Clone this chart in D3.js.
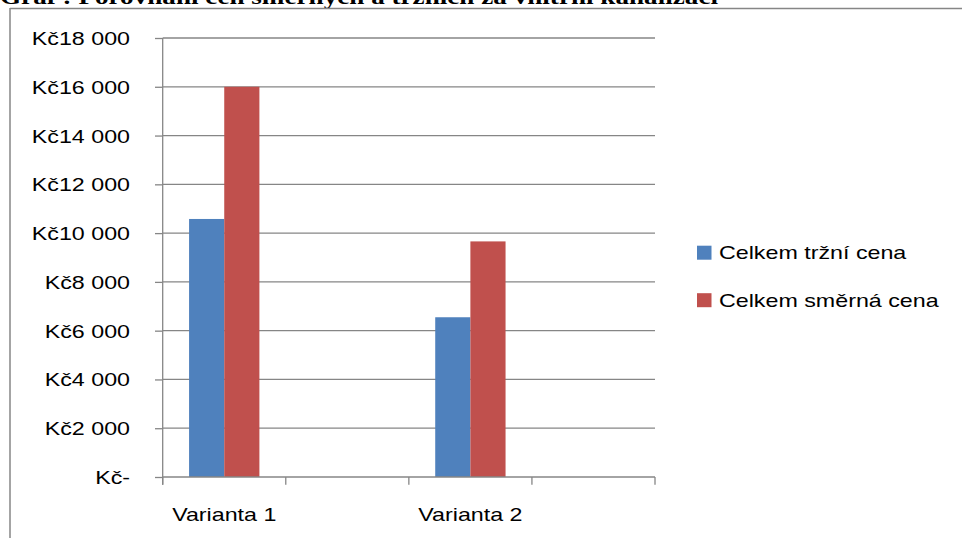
<!DOCTYPE html>
<html>
<head>
<meta charset="utf-8">
<script src="https://cdn.jsdelivr.net/npm/d3@7"></script>
<style>
  html, body { margin: 0; padding: 0; background: #fff; }
  svg { display: block; }
  text { font-family: "Liberation Sans", Arial, sans-serif; fill: #000; }
</style>
</head>
<body>
<svg id="chart" width="962" height="538"></svg>
<script>
// Category slots on the horizontal axis (two of them are left empty)
const categories = ["Varianta 1", "", "Varianta 2", ""];
// Series values in Kč
const marketPrice = [10580, null, 6550, null];
const guidePrice = [16000, null, 9660, null];
const seriesNames = ["Celkem tržní cena", "Celkem směrná cena"];
const seriesColors = ["#4F81BD", "#C0504D"];
const yTicks = [0, 2000, 4000, 6000, 8000, 10000, 12000, 14000, 16000, 18000];
const titleText = "Graf : Porovnání cen směrných a tržních za vnitřní kanalizaci";

const svg = d3.select("#chart");
const axisColor = "#868686";
const fontSize = "18.6px";
const stretch = 1.25; // the whole chart graphic is widened horizontally

// Title line (partly above the visible area) and frame
svg.append("text")
  .attr("x", 0).attr("y", 4)
  .attr("textLength", 718).attr("lengthAdjust", "spacingAndGlyphs")
  .style("font-family", "'Liberation Serif', 'Times New Roman', serif")
  .style("font-weight", "bold").style("font-size", "21px")
  .text(titleText);
svg.append("line").attr("x1", 10).attr("x2", 962).attr("y1", 8.5).attr("y2", 8.5)
  .attr("stroke", axisColor).attr("stroke-width", 1.5);
svg.append("line").attr("x1", 10).attr("x2", 10).attr("y1", 8).attr("y2", 538)
  .attr("stroke", axisColor).attr("stroke-width", 1.5);

const plot = { left: 162.7, right: 655, top: 38, bottom: 477 };

const x = d3.scaleBand().domain(d3.range(categories.length))
  .range([plot.left, plot.right]).paddingInner(0).paddingOuter(0);
const y = d3.scaleLinear().domain([0, 18000]).range([plot.bottom, plot.top]);

const fmt = d => d === 0 ? "Kč-" : "Kč" + d3.format(",")(d).replace(/,/g, " ");

// Stretched text helper
function label(parent, tx, ty, str, anchor) {
  return parent.append("text")
    .attr("transform", `translate(${tx},${ty}) scale(${stretch},1)`)
    .attr("text-anchor", anchor)
    .style("font-size", fontSize)
    .text(str);
}

// Gridlines
svg.append("g").selectAll("line").data(yTicks.filter(d => d > 0)).join("line")
  .attr("x1", plot.left).attr("x2", plot.right)
  .attr("y1", d => y(d)).attr("y2", d => y(d))
  .attr("stroke", axisColor).attr("stroke-width", 1.3);

// Y axis
const yAxis = d3.axisLeft(y).tickValues(yTicks).tickFormat(fmt).tickSize(7.7).tickPadding(25);
const gy = svg.append("g").attr("transform", `translate(${plot.left},0)`).call(yAxis);
gy.select(".domain").remove();
gy.selectAll(".tick line").attr("stroke", axisColor).attr("stroke-width", 1.3);
gy.selectAll(".tick text")
  .attr("x", 0).attr("dy", "0.35em")
  .attr("transform", `translate(-32.7,0) scale(${stretch},1)`)
  .style("font-size", fontSize)
  .style("font-family", "'Liberation Sans', Arial, sans-serif");
svg.append("line").attr("x1", plot.left).attr("x2", plot.left)
  .attr("y1", plot.top).attr("y2", plot.bottom + 7.7)
  .attr("stroke", axisColor).attr("stroke-width", 1.3);

// Bars: two per category, gap of 150% of a bar width between groups
const groupInner = d3.scaleBand().domain(d3.range(2)).range([0, x.bandwidth()])
  .paddingOuter(0.75).paddingInner(0);
const series = [marketPrice, guidePrice];
series.forEach((vals, si) => {
  svg.append("g").selectAll("rect")
    .data(vals.map((v, i) => ({ v, i })).filter(d => d.v != null))
    .join("rect")
    .attr("x", d => x(d.i) + groupInner(si))
    .attr("width", groupInner.bandwidth())
    .attr("y", d => y(d.v))
    .attr("height", d => y(0) - y(d.v))
    .attr("fill", seriesColors[si]);
});

// X axis: baseline, boundary ticks, labels
svg.append("line").attr("x1", plot.left).attr("x2", plot.right)
  .attr("y1", plot.bottom).attr("y2", plot.bottom)
  .attr("stroke", axisColor).attr("stroke-width", 1.3);
const bounds = d3.range(categories.length + 1).map(i => i < categories.length ? x(i) : plot.right);
svg.append("g").selectAll("line").data(bounds).join("line")
  .attr("x1", d => d).attr("x2", d => d)
  .attr("y1", plot.bottom).attr("y2", plot.bottom + 7.7)
  .attr("stroke", axisColor).attr("stroke-width", 1.3);
const xLabels = svg.append("g");
categories.forEach((c, i) => {
  if (c) label(xLabels, x(i) + x.bandwidth() / 2, 520.5, c, "middle");
});

// Legend
const legend = svg.append("g");
seriesNames.forEach((name, i) => {
  const cy = 252.7 + i * 47.5;
  legend.append("rect").attr("x", 697).attr("y", cy - 7).attr("width", 14.5).attr("height", 14)
    .attr("fill", seriesColors[i]);
  label(legend, 719, cy, name, "start").attr("dy", "0.35em");
});
</script>
</body>
</html>
